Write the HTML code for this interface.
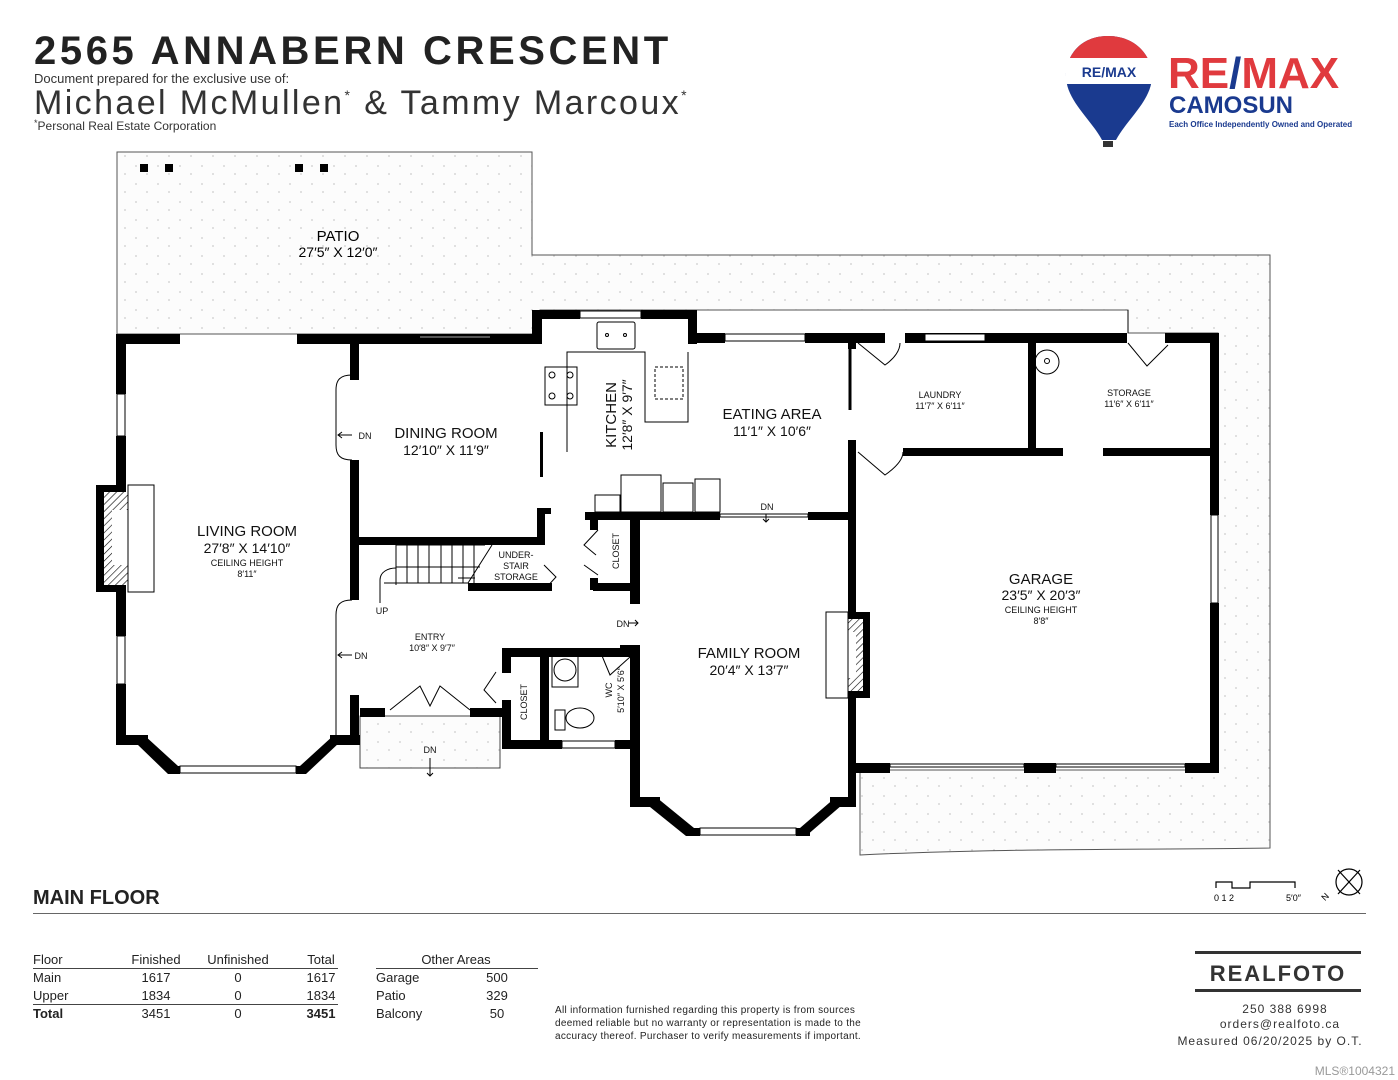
<!DOCTYPE html>
<html><head><meta charset="utf-8"><style>
body{margin:0;background:#fff;width:1398px;height:1080px;overflow:hidden;font-family:"Liberation Sans",sans-serif}
svg{position:absolute;left:0;top:0}
</style></head><body>
<svg width="1398" height="1080" viewBox="0 0 1398 1080" font-family="Liberation Sans, sans-serif">
<defs>
<pattern id="dots" width="22" height="18" patternUnits="userSpaceOnUse"><rect width="22" height="18" fill="#fcfcfc"/><circle cx="4" cy="4" r="0.9" fill="#ccc"/><circle cx="15" cy="12" r="0.9" fill="#ccc"/></pattern>
<pattern id="hatch" width="5" height="5" patternUnits="userSpaceOnUse" patternTransform="rotate(45)"><rect width="5" height="5" fill="#fff"/><line x1="0" y1="0" x2="0" y2="5" stroke="#000" stroke-width="1.2"/></pattern>
</defs>
<!-- header -->
<text x="34" y="64" font-size="40" font-weight="bold" fill="#222" letter-spacing="3.6">2565 ANNABERN CRESCENT</text>
<text x="34" y="83" font-size="13" fill="#333">Document prepared for the exclusive use of:</text>
<text x="34" y="114" font-size="34" fill="#333" letter-spacing="2.4">Michael McMullen<tspan font-size="14" dy="-14">*</tspan><tspan dy="14"> &amp; Tammy Marcoux</tspan><tspan font-size="14" dy="-14">*</tspan></text>
<text x="34" y="130" font-size="12" fill="#333"><tspan font-size="9" dy="-4">*</tspan><tspan dy="4">Personal Real Estate Corporation</tspan></text>
<!-- logo -->
<path d="M1108,36 C1080,36 1066,56 1066,76 C1066,100 1090,118 1102,140 L1116,140 C1128,118 1152,100 1152,76 C1152,56 1136,36 1108,36Z" fill="#1a3a8f"/>
<path d="M1108,36 C1080,36 1066,56 1066,76 L1152,76 C1152,56 1136,36 1108,36Z" fill="#e03a3e"/>
<rect x="1066" y="58" width="86" height="26" fill="#fff"/>
<text x="1109" y="77" font-size="14" font-weight="bold" fill="#1a3a8f" text-anchor="middle">RE/MAX</text>
<rect x="1103" y="141" width="10" height="6" fill="#333"/>
<text x="1168" y="88" font-size="44" font-weight="bold" fill="#e03a3e">RE<tspan fill="#1a3a8f">/</tspan>MAX</text>
<text x="1169" y="113" font-size="24" font-weight="bold" fill="#1a3a8f">CAMOSUN</text>
<text x="1169" y="127" font-size="8" font-weight="bold" fill="#1a3a8f">Each Office Independently Owned and Operated</text>

<!-- patio / exterior areas -->
<path d="M117,152 L532,152 L532,255 L1270,255 L1270,848 C1150,850 1000,848 860,855 L860,770 L1218,770 L1218,333 L1128,333 L1128,310 L540,310 L540,334 L117,334 Z" fill="url(#dots)" stroke="#555" stroke-width="1"/>
<rect x="140" y="164" width="8" height="8"/><rect x="165" y="164" width="8" height="8"/><rect x="295" y="164" width="8" height="8"/><rect x="320" y="164" width="8" height="8"/>
<text x="338" y="241" font-size="15" text-anchor="middle">PATIO</text>
<text x="338" y="257" font-size="14" text-anchor="middle">27′5″ X 12′0″</text>
<rect x="360" y="716" width="140" height="52" fill="url(#dots)" stroke="#444"/>

<g fill="#000">
<!-- living room -->
<rect x="116" y="334" width="64" height="10"/><rect x="297" y="334" width="245" height="10"/>
<rect x="116" y="334" width="10" height="60"/><rect x="116" y="436" width="10" height="200"/><rect x="116" y="684" width="10" height="60"/>
<rect x="116" y="735" width="32" height="10"/>
<polygon points="144,735 178,766 178,774 168,774 138,745"/>
<polygon points="300,766 334,735 340,742 306,774 300,774"/>
<rect x="170" y="766" width="10" height="8"/><rect x="296" y="766" width="10" height="8"/>
<rect x="330" y="735" width="30" height="10"/>
<rect x="350" y="343" width="9" height="37"/><rect x="350" y="460" width="9" height="140"/><rect x="350" y="695" width="9" height="50"/>
<!-- fireplace living -->
<rect x="96" y="485" width="30" height="107"/>
<!-- dining / kitchen -->
<rect x="420" y="336" width="70" height="2" fill="#555"/>
<rect x="532" y="310" width="10" height="34"/><rect x="532" y="310" width="48" height="9"/><rect x="641" y="310" width="55" height="9"/>
<rect x="688" y="310" width="9" height="34"/>
<rect x="688" y="333" width="37" height="10"/><rect x="805" y="333" width="80" height="10"/><rect x="905" y="333" width="222" height="10"/><rect x="1165" y="333" width="53" height="10"/>
<rect x="359" y="537" width="186" height="8"/><rect x="537" y="508" width="8" height="37"/><rect x="545" y="508" width="6" height="6"/>
<rect x="540" y="432" width="3" height="45"/>
<!-- stair area -->
<rect x="468" y="583" width="84" height="8"/>
<rect x="350" y="545" width="9" height="30"/>
<!-- eating area bottom / family top -->
<rect x="585" y="512" width="47" height="8"/><rect x="630" y="512" width="90" height="8"/><rect x="808" y="512" width="48" height="8"/>
<rect x="630" y="512" width="10" height="92"/><rect x="630" y="645" width="10" height="162"/>
<rect x="590" y="520" width="8" height="10"/><rect x="590" y="578" width="8" height="12"/><rect x="593" y="583" width="42" height="8"/>
<!-- family bay -->
<rect x="630" y="797" width="30" height="10"/>
<polygon points="656,797 694,828 694,836 686,836 650,807"/>
<polygon points="800,828 836,797 842,805 806,836 800,836"/>
<rect x="686" y="828" width="14" height="8"/><rect x="796" y="828" width="14" height="8"/>
<rect x="830" y="797" width="26" height="10"/>
<!-- garage -->
<rect x="848" y="343" width="8" height="6"/><rect x="848" y="440" width="8" height="367"/>
<rect x="1210" y="333" width="9" height="182"/><rect x="1210" y="603" width="9" height="170"/>
<rect x="848" y="763" width="42" height="10"/><rect x="1024" y="763" width="32" height="10"/><rect x="1185" y="763" width="34" height="10"/>
<rect x="1028" y="338" width="8" height="117"/>
<rect x="903" y="448" width="160" height="8"/><rect x="1103" y="448" width="108" height="8"/>
<!-- entry / wc -->
<rect x="360" y="708" width="25" height="9"/><rect x="470" y="708" width="32" height="9"/>
<rect x="502" y="648" width="130" height="9"/><rect x="502" y="648" width="9" height="25"/>
<rect x="502" y="700" width="9" height="45"/><rect x="502" y="740" width="60" height="9"/><rect x="615" y="740" width="25" height="9"/>
<rect x="540" y="648" width="9" height="97"/>
<rect x="620" y="645" width="12" height="10"/>
</g>
<!-- windows -->
<g fill="#fff" stroke="#000" stroke-width="1">
<rect x="117" y="394" width="8" height="42"/><rect x="117" y="636" width="8" height="48"/>
<rect x="180" y="766" width="116" height="7"/><rect x="700" y="828" width="96" height="7"/>
<rect x="580" y="311" width="61" height="7"/><rect x="725" y="334" width="80" height="7"/><rect x="925" y="334" width="60" height="7"/>
<rect x="1211" y="515" width="7" height="88"/><rect x="562" y="741" width="53" height="7"/>
<rect x="890" y="764" width="134" height="3"/><rect x="1056" y="764" width="129" height="3"/>
<rect x="720" y="514" width="88" height="3"/>
</g>
<!-- fireplace hatch -->
<rect x="104" y="492" width="24" height="93" fill="url(#hatch)"/><rect x="112" y="510" width="16" height="55" fill="#fff"/>
<rect x="128" y="485" width="26" height="107" fill="#fff" stroke="#000"/>
<rect x="848" y="612" width="22" height="86" fill="#000"/>
<rect x="848" y="619" width="15" height="72" fill="url(#hatch)"/><rect x="848" y="632" width="8" height="46" fill="#fff"/>
<rect x="826" y="612" width="22" height="86" fill="#fff" stroke="#000"/>
<!-- fixtures -->
<g fill="none" stroke="#000" stroke-width="1">
<path d="M352,375 C340,375 336,380 336,390 L336,445 C336,455 340,460 352,460"/>
<path d="M352,600 C340,600 336,605 336,615 L336,735"/>
<rect x="597" y="322" width="38" height="27" rx="2"/><circle cx="607" cy="335" r="1.5"/><circle cx="625" cy="335" r="1.5"/>
<path d="M567,452 L567,367 L545,367 M567,367 L567,352 L645,352 L645,422 L688,422 L688,352"/>
<rect x="545" y="367" width="32" height="38"/><circle cx="552" cy="375" r="3"/><circle cx="570" cy="375" r="3"/><circle cx="552" cy="396" r="3"/><circle cx="570" cy="396" r="3"/>
<rect x="655" y="367" width="28" height="32" stroke-dasharray="3,2"/>
<rect x="595" y="495" width="25" height="17"/><rect x="621" y="475" width="40" height="37"/><rect x="663" y="483" width="30" height="29"/><rect x="695" y="479" width="25" height="33"/>
<path d="M396,545 L396,585 M384,583 L468,583"/>
<path d="M396,545 L485,545 M407,545 L407,583 M418,545 L418,583 M429,545 L429,583 M441,545 L441,583 M452,545 L452,583 M463,545 L463,583 M474,545 L474,583 M468,583 L492,545"/>
<path d="M396,567 L480,567 M380,603 L380,580 C380,572 388,568 396,568"/>
<path d="M544,565 L556,577 L544,590 M598,530 L584,545 L596,555 M598,575 L584,565"/>
<path d="M600,651 L610,675 L630,657"/>
<path d="M496,672 L484,690 L496,703"/>
<ellipse cx="565" cy="670" rx="11" ry="11"/><rect x="552" y="655" width="26" height="32"/>
<ellipse cx="580" cy="718" rx="14" ry="10"/><rect x="555" y="710" width="10" height="20"/>
<path d="M390,710 L420,686 L430,706 L440,686 L470,710"/>
<path d="M858,343 L885,365 C895,358 900,350 900,343"/>
<path d="M858,452 L885,475 C895,468 903,460 903,452"/>
<path d="M1128,343 L1147,366 L1168,345"/>
<circle cx="1047" cy="362" r="12"/><circle cx="1047" cy="361" r="2.5"/>
<line x1="850" y1="348" x2="850" y2="410" stroke-width="3"/>
<path d="M1128,333 L1128,310"/>
</g>
<!-- arrows -->
<g stroke="#000" fill="none" stroke-width="1">
<path d="M352,435 L338,435 M342,432 L338,435 L342,438"/><path d="M352,655 L338,655 M342,652 L338,655 L342,658"/>
<path d="M766,514 L766,522 M763,519 L766,522 L769,519"/>
<path d="M628,623 L638,623 M635,620 L638,623 L635,626"/>
<path d="M430,758 L430,776 M427,773 L430,776 L433,773"/>
<path d="M458,578 L475,578"/>
</g>
<!-- labels -->
<g text-anchor="middle" fill="#111">
<text x="446" y="438" font-size="15">DINING ROOM</text><text x="446" y="455" font-size="14">12′10″ X 11′9″</text>
<text x="247" y="536" font-size="15">LIVING ROOM</text><text x="247" y="553" font-size="14">27′8″ X 14′10″</text>
<text x="247" y="566" font-size="9">CEILING HEIGHT</text><text x="247" y="577" font-size="9">8′11″</text>
<text x="772" y="419" font-size="15">EATING AREA</text><text x="772" y="436" font-size="14">11′1″ X 10′6″</text>
<text x="940" y="398" font-size="9">LAUNDRY</text><text x="940" y="409" font-size="9">11′7″ X 6′11″</text>
<text x="1129" y="396" font-size="9">STORAGE</text><text x="1129" y="407" font-size="9">11′6″ X 6′11″</text>
<text x="1041" y="584" font-size="15">GARAGE</text><text x="1041" y="600" font-size="14">23′5″ X 20′3″</text>
<text x="1041" y="613" font-size="9">CEILING HEIGHT</text><text x="1041" y="624" font-size="9">8′8″</text>
<text x="749" y="658" font-size="15">FAMILY ROOM</text><text x="749" y="675" font-size="14">20′4″ X 13′7″</text>
<text x="430" y="640" font-size="9">ENTRY</text><text x="432" y="651" font-size="9">10′8″ X 9′7″</text>
<text x="516" y="558" font-size="9">UNDER-</text><text x="516" y="569" font-size="9">STAIR</text><text x="516" y="580" font-size="9">STORAGE</text>
<text x="382" y="614" font-size="9">UP</text>
<text x="365" y="439" font-size="9">DN</text><text x="361" y="659" font-size="9">DN</text>
<text x="767" y="510" font-size="9">DN</text><text x="623" y="627" font-size="9">DN</text><text x="430" y="753" font-size="9">DN</text>
<text transform="translate(616,415) rotate(-90)" font-size="15">KITCHEN</text>
<text transform="translate(632,415) rotate(-90)" font-size="14">12′8″ X 9′7″</text>
<text transform="translate(619,551) rotate(-90)" font-size="9">CLOSET</text>
<text transform="translate(527,702) rotate(-90)" font-size="9">CLOSET</text>
<text transform="translate(612,690) rotate(-90)" font-size="9">WC</text>
<text transform="translate(624,690) rotate(-90)" font-size="9">5′10″ X 5′6″</text>
</g>
<!-- scale & compass -->
<g stroke="#000" fill="none" stroke-width="1.2">
<path d="M1216,888 L1216,882 L1232,882 L1232,888 L1250,888 L1250,882 L1295,882 L1295,888"/>
<circle cx="1349" cy="882" r="13"/><line x1="1338" y1="894" x2="1360" y2="870"/><line x1="1338" y1="870" x2="1360" y2="894"/>
</g>
<text x="1214" y="901" font-size="9">0  1  2</text><text x="1286" y="901" font-size="9">5′0″</text>
<text x="1322" y="900" font-size="9" transform="rotate(-45 1325 897)">N</text>
<!-- footer -->
<text x="33" y="904" font-size="20" font-weight="bold" fill="#222">MAIN FLOOR</text>
<rect x="33" y="913" width="1333" height="1" fill="#666"/>
<g font-size="13" fill="#222">
<text x="33" y="964">Floor</text><text x="156" y="964" text-anchor="middle">Finished</text><text x="238" y="964" text-anchor="middle">Unfinished</text><text x="321" y="964" text-anchor="middle">Total</text>
<rect x="33" y="968" width="305" height="1" fill="#444"/>
<text x="33" y="982">Main</text><text x="156" y="982" text-anchor="middle">1617</text><text x="238" y="982" text-anchor="middle">0</text><text x="321" y="982" text-anchor="middle">1617</text>
<text x="33" y="1000">Upper</text><text x="156" y="1000" text-anchor="middle">1834</text><text x="238" y="1000" text-anchor="middle">0</text><text x="321" y="1000" text-anchor="middle">1834</text>
<rect x="33" y="1004" width="305" height="1" fill="#444"/>
<text x="33" y="1018" font-weight="bold">Total</text><text x="156" y="1018" text-anchor="middle">3451</text><text x="238" y="1018" text-anchor="middle">0</text><text x="321" y="1018" text-anchor="middle" font-weight="bold">3451</text>
<text x="456" y="964" text-anchor="middle">Other Areas</text>
<rect x="376" y="968" width="162" height="1" fill="#444"/>
<text x="376" y="982">Garage</text><text x="497" y="982" text-anchor="middle">500</text>
<text x="376" y="1000">Patio</text><text x="497" y="1000" text-anchor="middle">329</text>
<text x="376" y="1018">Balcony</text><text x="497" y="1018" text-anchor="middle">50</text>
</g>
<g font-size="10" fill="#222" letter-spacing="0.3">
<text x="555" y="1013">All information furnished regarding this property is from sources</text>
<text x="555" y="1026">deemed reliable but no warranty or representation is made to the</text>
<text x="555" y="1039">accuracy thereof. Purchaser to verify measurements if important.</text>
</g>
<rect x="1195" y="951" width="166" height="3" fill="#333"/><rect x="1195" y="989" width="166" height="3" fill="#333"/>
<text x="1278" y="981" font-size="22" font-weight="bold" fill="#333" text-anchor="middle" letter-spacing="2">REALFOTO</text>
<g font-size="12" fill="#333" text-anchor="middle" letter-spacing="1">
<text x="1285" y="1013">250 388 6998</text><text x="1280" y="1028">orders@realfoto.ca</text><text x="1270" y="1045">Measured 06/20/2025 by O.T.</text>
</g>
<text x="1395" y="1075" font-size="12" fill="#999" text-anchor="end">MLS®1004321</text>
</svg>
</body></html>
